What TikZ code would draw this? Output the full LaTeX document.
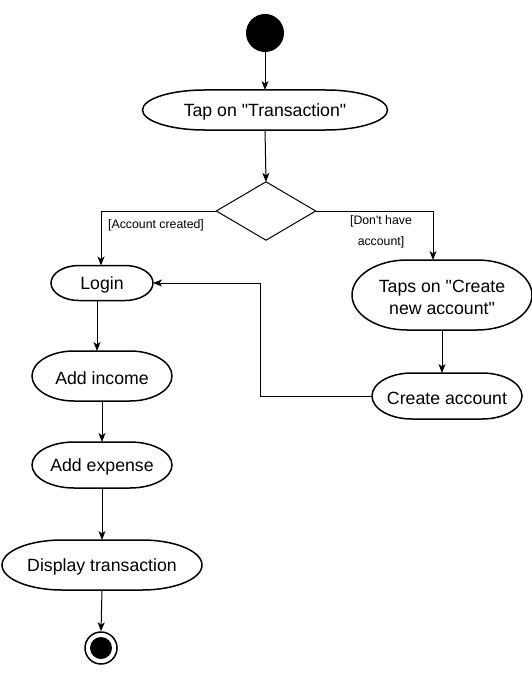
\documentclass[tikz,border=0pt]{standalone}
\usepackage{fontspec}
\setmainfont{Liberation Sans}[Ligatures=TeXOff]
\usetikzlibrary{calc,arrows.meta}
\tikzset{
  actfont/.style={font=\fontsize{17.7}{22}\selectfont, align=center},
  act/.style={inner sep=0pt, outer sep=0pt},
  acttext/.style={actfont, inner sep=0pt},
  actline/.style={line width=1.5pt},
  arr/.style={line width=1pt, -{Stealth[length=9pt,width=7pt,inset=2.5pt]}},
  guard/.style={font=\fontsize{12.3}{21}\selectfont, align=center, inner sep=0pt}
}
\newcommand\actbox[7]{%
  \node[act, minimum width=#4pt, minimum height=#5pt] (#1) at (#2,#3) {};
  \node[acttext] (#1-t) at ([yshift=-2pt]#1.center) {#7};
  \draw[actline] ($(#1.north west)+(#6pt,0pt)$) -- ($(#1.north east)-(#6pt,0pt)$)
    arc[start angle=90,end angle=-90,x radius=#6pt,y radius=0.5*#5pt]
    -- ($(#1.south west)+(#6pt,0pt)$)
    arc[start angle=270,end angle=90,x radius=#6pt,y radius=0.5*#5pt] -- cycle;
}
\begin{document}
\begin{tikzpicture}[x=1pt,y=-1pt]
\useasboundingbox (0,0) rectangle (532,674);

\node[circle, fill=black, minimum size=38pt, inner sep=0pt] (start) at (265,33) {};
\actbox{tap}{265}{110}{245}{40}{62}{Tap on "Transaction"}

\node[minimum width=99pt, minimum height=58pt, inner sep=0pt] (dec) at (266,211) {};
\draw[line width=1pt] (dec.north) -- (dec.east) -- (dec.south) -- (dec.west) -- cycle;

\actbox{login}{102}{283}{102}{35}{28}{Login}
\actbox{taps}{442}{295}{180}{70}{55}{Taps on "Create\\new account"}
\actbox{ca}{447}{396}{150}{46}{40}{Create account}
\actbox{inc}{102}{376}{140}{50}{42}{Add income}
\actbox{exp}{102}{465}{140}{46}{42}{Add expense}
\actbox{disp}{102}{565}{200}{50}{60}{Display transaction}

\node[circle, draw, line width=1.5pt, minimum size=32pt, inner sep=0pt] (end) at (101,648) {};
\fill (end.center) circle (11pt);

\coordinate (lx) at (101,0);
\coordinate (rx) at (433,0);
\coordinate (kx) at (260,0);

\draw[arr] (start) -- (tap.north);
\draw[arr] (tap.south) -- (dec.north);
\draw[arr] (dec.west) -| (login.north -| lx);
\draw[arr] (dec.east) -| (taps.north -| rx);
\node[guard, anchor=west] (g1) at (108,225) {[Account created]};
\node[guard] (g2) at (381,232) {[Don't have\\account]};

\draw[arr] (taps.south) -- (ca.north -| taps.south);
\draw[arr] (ca.west) -- (ca.west -| kx) |- (login.east);
\draw[arr] ([xshift=-5pt]login.south) -- ([xshift=-5pt]login.south |- inc.north);
\draw[arr] (inc.south) -- (exp.north);
\draw[arr] (exp.south) -- (disp.north);
\draw[arr] (disp.south) -- (end.north);
\end{tikzpicture}
\end{document}
